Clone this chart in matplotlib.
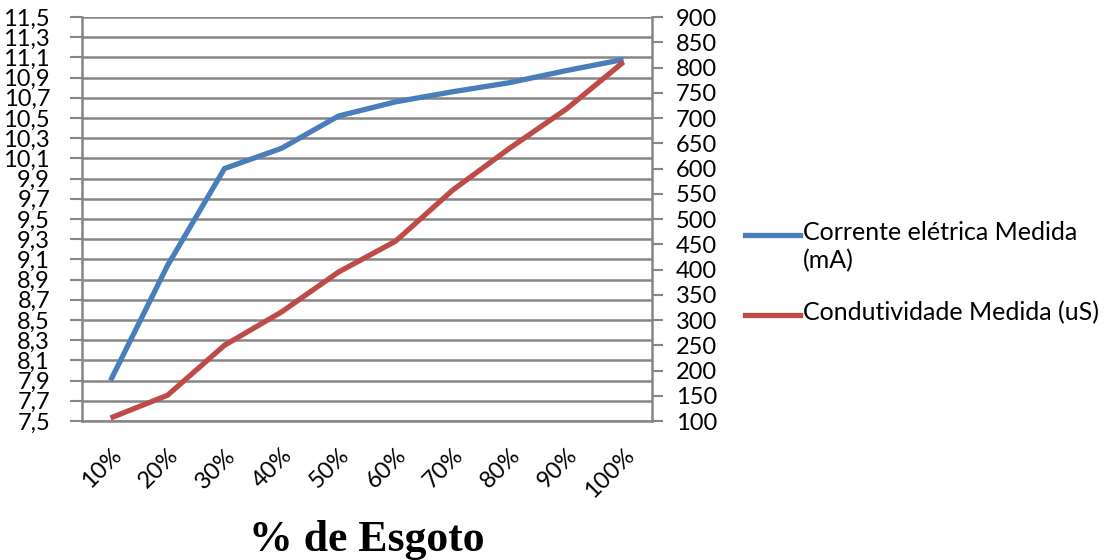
import numpy as np
import matplotlib
matplotlib.use("Agg")
import matplotlib.pyplot as plt
from matplotlib.lines import Line2D

# data
categorias = ["10%", "20%", "30%", "40%", "50%", "60%", "70%", "80%", "90%", "100%"]
corrente = [7.9, 9.04, 10.0, 10.2, 10.52, 10.66, 10.76, 10.85, 10.97, 11.08]   # mA
condutividade = [106, 151, 250, 316, 395, 456, 557, 640, 718, 811]           # uS
ticks_esq = np.arange(7.5, 11.51, 0.2)
ticks_dir = np.arange(100, 901, 50)

azul = "#4A7EBB"
vermelho = "#BE4B48"
cinza = "#868686"

plt.rcParams["font.family"] = ["Lato", "DejaVu Sans"]

fig = plt.figure(figsize=(11.04, 5.6), dpi=100)
ax = fig.add_axes([0.0743, 0.2482, 0.5163, 0.7214])
ax2 = ax.twinx()

x = np.arange(len(categorias))
ax.plot(x, corrente, color=azul, lw=3.8, solid_capstyle="butt", zorder=3)
ax2.plot(x, condutividade, color=vermelho, lw=3.8, solid_capstyle="butt", zorder=3)

ax.set_xlim(-0.5, len(categorias) - 0.5)
ax.set_ylim(7.5, 11.5)
ax2.set_ylim(100, 900)
ax.set_yticks(ticks_esq)
ax.set_yticklabels([f"{v:.1f}".replace(".", ",") for v in ticks_esq])
ax2.set_yticks(ticks_dir)
ax.grid(axis="y", color=cinza, lw=1.8)
ax.set_axisbelow(True)

ax.set_xticks(x)
ax.set_xticklabels(categorias, rotation=45, ha="right", rotation_mode="anchor", fontsize=17)
ax.tick_params(axis="x", length=0, pad=17)
ax.tick_params(axis="y", labelsize=17, length=9, width=1.5, color=cinza, pad=14)
ax2.tick_params(axis="y", labelsize=17, length=8, width=1.5, color=cinza, pad=9)

for a in (ax, ax2):
    for s in a.spines.values():
        s.set_visible(False)
for a, lado in ((ax, "left"), (ax2, "right"), (ax, "bottom")):
    a.spines[lado].set_visible(True)
    a.spines[lado].set_color(cinza)
    a.spines[lado].set_linewidth(1.8)

fig.text(0.3325, 0.016, "% de Esgoto", fontsize=31.5, fontweight="bold",
         family="Liberation Serif", ha="center", va="baseline")

# legend drawn on the figure so the handle sits on the first text line
leg = [(azul, "Corrente elétrica Medida\n(mA)", 0.580),
       (vermelho, "Condutividade Medida (uS)", 0.438)]
for cor, txt, yy in leg:
    fig.add_artist(Line2D([0.675, 0.725], [yy, yy], color=cor, lw=3.8,
                          transform=fig.transFigure))
    fig.text(0.727, yy + 0.025, txt, fontsize=18, va="top", ha="left", linespacing=1.25)

fig.savefig("out.png", dpi=100)
